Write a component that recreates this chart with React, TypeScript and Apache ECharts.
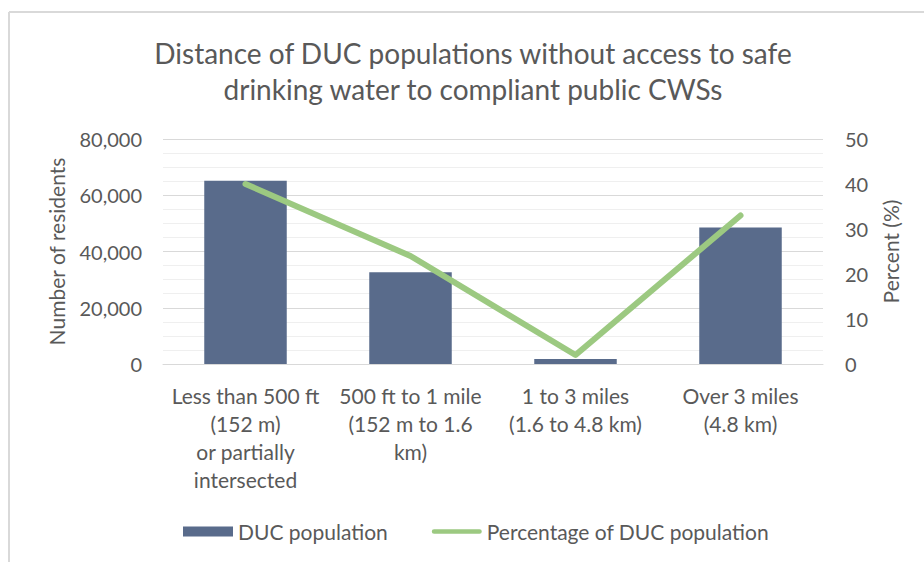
import React, { useEffect, useRef } from "react";
import * as echarts from "echarts";

const categories = [
  "Less than 500 ft\n(152 m)\nor partially\nintersected",
  "500 ft to 1 mile\n(152 m to 1.6\nkm)",
  "1 to 3 miles\n(1.6 to 4.8 km)",
  "Over 3 miles\n(4.8 km)",
];
const populationValues = [65200, 32600, 1800, 48500];
const percentValues = [40, 24, 2, 33];
const leftTicks = { min: 0, max: 80000, interval: 20000 };
const rightTicks = { min: 0, max: 50, interval: 10 };

const FONT = "Lato";
const TEXT = "#595959";
const BAR = "#596b8b";
const LINE = "#9cc981";

export default function App() {
  const ref = useRef<HTMLDivElement>(null);
  useEffect(() => {
    document.body.style.margin = "0";
    const chart = echarts.init(ref.current!, undefined, { renderer: "svg" });
    chart.setOption({
      animation: false,
      backgroundColor: "#ffffff",
      textStyle: { fontFamily: FONT, color: TEXT },
      title: {
        text: "Distance of DUC populations without access to safe\ndrinking water to compliant public CWSs",
        left: 468,
        textAlign: "center",
        top: 30,
        textStyle: {
          fontFamily: FONT,
          fontWeight: "normal",
          fontSize: 28,
          lineHeight: 36,
          color: TEXT,
        },
      },
      graphic: [
        { type: "line", shape: { x1: 9, y1: 12, x2: 9, y2: 562 }, style: { stroke: "#d9d9d9", lineWidth: 2 } },
        { type: "line", shape: { x1: 9, y1: 12, x2: 924, y2: 12 }, style: { stroke: "#d9d9d9", lineWidth: 2 } },
      ],
      grid: { left: 163, right: 101, top: 139, bottom: 198, containLabel: false },
      legend: {
        left: 178,
        top: 516,
        itemWidth: 50,
        itemHeight: 10,
        itemGap: 44,
        textStyle: { fontFamily: FONT, fontSize: 21, color: TEXT },
        data: [
          { name: "DUC population", icon: "rect" },
          { name: "Percentage of DUC population", icon: "path://M2.5,0 H52.5 A2.5,2.5 0 0 1 52.5,5 H2.5 A2.5,2.5 0 0 1 2.5,0 Z" },
        ],
      },
      xAxis: {
        type: "category",
        data: categories,
        axisLine: { show: true, lineStyle: { color: "#d9d9d9", width: 1 } },
        axisTick: { show: false },
        axisLabel: {
          interval: 0,
          fontFamily: FONT,
          fontSize: 21,
          lineHeight: 28,
          color: TEXT,
          margin: 17,
        },
      },
      yAxis: [
        {
          type: "value",
          min: leftTicks.min,
          max: leftTicks.max,
          interval: leftTicks.interval,
          name: "Number of residents",
          nameLocation: "middle",
          nameGap: 96,
          nameTextStyle: { fontFamily: FONT, fontSize: 21, color: TEXT },
          axisLine: { show: false },
          axisTick: { show: false },
          axisLabel: {
            fontFamily: FONT,
            fontSize: 20,
            color: TEXT,
            margin: 21,
            formatter: (v: number) => v.toLocaleString("en-US"),
          },
          splitLine: { show: true, lineStyle: { color: "#d9d9d9", width: 1 } },
          minorTick: { show: false, splitNumber: 4 },
          minorSplitLine: { show: true, lineStyle: { color: "#efefef", width: 1 } },
        },
        {
          type: "value",
          min: rightTicks.min,
          max: rightTicks.max,
          interval: rightTicks.interval,
          name: "Percent (%)",
          nameLocation: "middle",
          nameGap: 57,
          nameTextStyle: { fontFamily: FONT, fontSize: 21, color: TEXT },
          axisLine: { show: false },
          axisTick: { show: false },
          axisLabel: { fontFamily: FONT, fontSize: 20, color: TEXT, margin: 22 },
          splitLine: { show: false },
        },
      ],
      series: [
        {
          name: "DUC population",
          type: "bar",
          data: populationValues,
          barWidth: "50%",
          itemStyle: { color: BAR },
          yAxisIndex: 0,
        },
        {
          name: "Percentage of DUC population",
          type: "line",
          data: percentValues,
          yAxisIndex: 1,
          symbol: "none",
          lineStyle: { color: LINE, width: 6, cap: "round", join: "round" },
          itemStyle: { color: LINE },
        },
      ],
    });
    return () => chart.dispose();
  }, []);
  return <div ref={ref} style={{ width: 924, height: 562, position: "absolute", left: 0, top: 0 }} />;
}
